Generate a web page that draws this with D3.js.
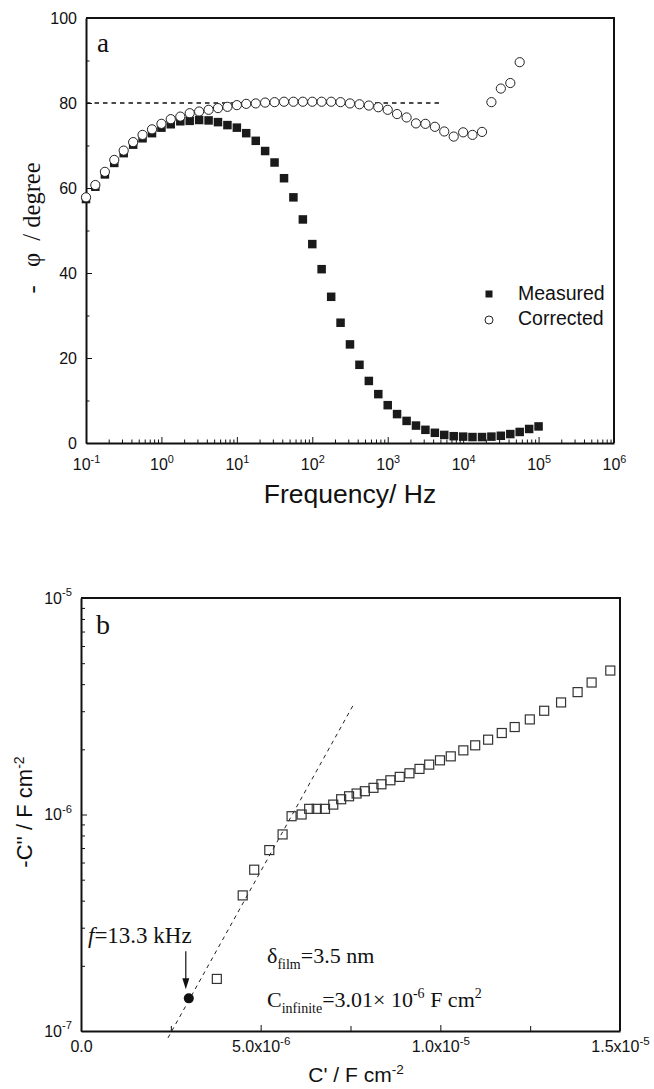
<!DOCTYPE html>
<html>
<head>
<meta charset="utf-8">
<script src="https://cdn.jsdelivr.net/npm/d3@7"></script>
<style>
body { margin: 0; background: #fff; }
svg { display: block; background: #fff; }
.axis text { font-family: 'Liberation Sans', Arial, sans-serif; font-size: 16px; fill: #111; }
.axis path, .axis line { stroke: #111; }
.serif { font-family: 'Liberation Serif', 'Times New Roman', serif; fill: #111; }
.sans { font-family: 'Liberation Sans', Arial, sans-serif; fill: #111; }
</style>
</head>
<body>
<svg id="chart" width="654" height="1089"></svg>
<script>
// panel a: phase angle vs frequency (8 points per decade)
var freq = [0.1, 0.133, 0.178, 0.237, 0.316, 0.422, 0.562, 0.75,
    1, 1.33, 1.78, 2.37, 3.16, 4.22, 5.62, 7.5,
    10, 13.3, 17.8, 23.7, 31.6, 42.2, 56.2, 75,
    100, 133, 178, 237, 316, 422, 562, 750,
    1000, 1330, 1780, 2370, 3160, 4220, 5620, 7500,
    10000, 13300, 17800, 23700, 31600, 42200, 56200, 75000,
    100000];
var measured = [57.4, 60.3, 63.2, 65.9, 68.2, 70.2, 71.7, 72.9,
    74.2, 75.0, 75.7, 75.8, 76.0, 75.9, 75.5, 74.8,
    74.2, 72.9, 71.1, 68.7, 66.0, 62.3, 57.8, 52.6,
    46.8, 40.9, 34.4, 28.3, 23.2, 18.4, 14.6, 11.5,
    8.9, 6.8, 5.2, 4.1, 3.1, 2.4, 1.9, 1.6,
    1.5, 1.4, 1.4, 1.5, 1.7, 2.1, 2.6, 3.3,
    3.9];
var corrected = [57.8, 60.7, 63.8, 66.6, 68.8, 70.8, 72.5, 73.8,
    75.1, 76.2, 76.8, 77.6, 78.0, 78.4, 78.8, 79.1,
    79.5, 79.8, 79.9, 80.1, 80.2, 80.3, 80.3, 80.3,
    80.3, 80.3, 80.3, 80.2, 79.9, 79.7, 79.4, 79.0,
    78.4, 77.4, 76.6, 75.2, 75.1, 74.4, 73.3, 72.1,
    73.1, 72.5, 73.2, 80.2, 83.4, 84.7, 89.6];
var phaseRef = { value: 80, fromFreq: 0.1, toFreq: 5000 };
var freqTicks = [0.1, 1, 10, 100, 1000, 10000, 100000, 1000000];
var freqTickExp = ['-1', '0', '1', '2', '3', '4', '5', '6'];
var phaseTicks = [0, 20, 40, 60, 80, 100];
var legendItems = ['Measured', 'Corrected'];

// panel b: complex capacitance plane (C' in 1e-6 F cm-2, -C'' in 1e-6 F cm-2)
var cReal = [3.78, 4.50, 4.82, 5.24, 5.61, 5.86, 6.14, 6.35, 6.56, 6.79,
    7.02, 7.24, 7.46, 7.67, 7.90, 8.14, 8.36, 8.61, 8.87, 9.14,
    9.42, 9.69, 9.99, 10.29, 10.64, 10.97, 11.33, 11.71, 12.07, 12.49,
    12.89, 13.36, 13.82, 14.21, 14.73];
var cImag = [0.174, 0.423, 0.556, 0.685, 0.809, 0.982, 1.00, 1.062, 1.062, 1.062,
    1.111, 1.176, 1.214, 1.250, 1.281, 1.328, 1.379, 1.439, 1.492, 1.550,
    1.624, 1.700, 1.779, 1.856, 1.978, 2.087, 2.216, 2.379, 2.535, 2.749,
    3.014, 3.293, 3.675, 4.070, 4.623];
var markedPoint = { re: 3.00, im: 0.1415, label: '13.3 kHz' };
var fitLine = [{ re: 2.42, im: 0.0929 }, { re: 7.58, im: 3.21 }];
var reTicks = [0, 5, 10, 15];
var reTickBase = ['0.0', '5.0x10', '1.0x10', '1.5x10'];
var reTickExp = ['', '-6', '-5', '-5'];
var imTicks = [1e-7, 1e-6, 1e-5];
var imTickExp = ['-7', '-6', '-5'];

var svg = d3.select('#chart');

function sup(text, base, exp, baseSize) {
    text.text(null);
    text.append('tspan').text(base);
    if (exp) {
        text.append('tspan')
            .attr('dy', -baseSize * 0.42)
            .attr('font-size', baseSize * 0.66)
            .text(exp);
    }
}

function minorLog(lo, hi) {
    var out = [];
    for (var e = lo; e < hi; e++) {
        for (var m = 2; m <= 9; m++) {
            out.push(m * Math.pow(10, e));
        }
    }
    return out;
}

// ---------- panel a ----------
var a = { left: 86, right: 614, top: 18, bottom: 443 };
var xA = d3.scaleLog().domain([0.1, 1e6]).range([a.left, a.right]);
var yA = d3.scaleLinear().domain([0, 100]).range([a.bottom, a.top]);

var gA = svg.append('g');

gA.append('g')
    .attr('class', 'axis')
    .attr('transform', 'translate(0,' + a.bottom + ')')
    .call(d3.axisBottom(xA).tickValues(minorLog(-1, 6)).tickSizeInner(-3.5).tickSizeOuter(0).tickFormat(''))
    .select('.domain').remove();
var xAxA = gA.append('g')
    .attr('class', 'axis')
    .attr('transform', 'translate(0,' + a.bottom + ')')
    .call(d3.axisBottom(xA).tickValues(freqTicks).tickSizeInner(-6).tickSizeOuter(0).tickPadding(16));
xAxA.selectAll('.tick text').attr('font-size', 16.5).each(function (d, i) {
    sup(d3.select(this), '10', freqTickExp[i], 16.5);
});
xAxA.select('.domain').attr('stroke-width', 2);

gA.append('g')
    .attr('class', 'axis')
    .attr('transform', 'translate(' + a.left + ',0)')
    .call(d3.axisLeft(yA).tickValues([10, 30, 50, 70, 90]).tickSizeInner(-3.5).tickSizeOuter(0).tickFormat(''))
    .select('.domain').remove();
var yAxA = gA.append('g')
    .attr('class', 'axis')
    .attr('transform', 'translate(' + a.left + ',0)')
    .call(d3.axisLeft(yA).tickValues(phaseTicks).tickSizeInner(-6).tickSizeOuter(0).tickPadding(9));
yAxA.selectAll('.tick text').attr('font-size', 16.5);
yAxA.select('.domain').attr('stroke-width', 2);

gA.append('path')
    .attr('d', 'M' + a.left + ',' + a.top + 'H' + a.right + 'V' + a.bottom)
    .attr('fill', 'none').attr('stroke', '#111').attr('stroke-width', 2);

gA.append('line')
    .attr('x1', xA(phaseRef.fromFreq)).attr('x2', xA(phaseRef.toFreq))
    .attr('y1', yA(phaseRef.value)).attr('y2', yA(phaseRef.value))
    .attr('stroke', '#111').attr('stroke-width', 1.6).attr('stroke-dasharray', '4.5,4');

var sq = 8.5;
gA.append('g').selectAll('rect')
    .data(measured)
    .enter()
    .append('rect')
    .attr('x', function (d, i) { return xA(freq[i]) - sq / 2; })
    .attr('y', function (d) { return yA(d) - sq / 2; })
    .attr('width', sq).attr('height', sq)
    .attr('fill', '#1a1a1a');

gA.append('g').selectAll('circle')
    .data(corrected)
    .enter()
    .append('circle')
    .attr('cx', function (d, i) { return xA(freq[i]); })
    .attr('cy', function (d) { return yA(d); })
    .attr('r', 4.6)
    .attr('fill', '#fff')
    .attr('stroke', '#222').attr('stroke-width', 1);

// legend
gA.append('rect').attr('x', 485.5).attr('y', 290.5).attr('width', 7).attr('height', 7).attr('fill', '#1a1a1a');
gA.append('circle').attr('cx', 489).attr('cy', 320).attr('r', 4).attr('fill', '#fff').attr('stroke', '#222');
gA.selectAll('.legend')
    .data(legendItems)
    .enter()
    .append('text')
    .attr('class', 'sans')
    .attr('x', 518)
    .attr('y', function (d, i) { return 300 + i * 25; })
    .attr('font-size', 19.5)
    .text(function (d) { return d; });

gA.append('text').attr('class', 'serif').attr('x', 97).attr('y', 52).attr('font-size', 27).text('a');

gA.append('text').attr('class', 'sans')
    .attr('x', 350).attr('y', 503)
    .attr('text-anchor', 'middle').attr('font-size', 26.5)
    .text('Frequency/ Hz');

gA.append('text').attr('class', 'serif')
    .attr('transform', 'translate(40,228) rotate(-90)')
    .attr('text-anchor', 'middle').attr('font-size', 24.5)
    .text('-\u00A0\u00A0\u00A0\u03C6\u00A0\u00A0/\u00A0degree');

// ---------- panel b ----------
var b = { left: 81, right: 620, top: 598, bottom: 1031 };
var xB = d3.scaleLinear().domain([0, 15]).range([b.left, b.right]);
var yB = d3.scaleLog().domain([1e-7, 1e-5]).range([b.bottom, b.top]);

var gB = svg.append('g');

gB.append('g')
    .attr('class', 'axis')
    .attr('transform', 'translate(0,' + b.bottom + ')')
    .call(d3.axisBottom(xB).tickValues([2.5, 7.5, 12.5]).tickSizeInner(-5).tickSizeOuter(0).tickFormat(''))
    .select('.domain').remove();
var xAxB = gB.append('g')
    .attr('class', 'axis')
    .attr('transform', 'translate(0,' + b.bottom + ')')
    .call(d3.axisBottom(xB).tickValues(reTicks).tickSizeInner(-6).tickSizeOuter(0).tickPadding(10));
xAxB.selectAll('.tick text').attr('font-size', 17.5).each(function (d, i) {
    sup(d3.select(this), reTickBase[i], reTickExp[i], 17.5);
});
xAxB.select('.domain').attr('stroke-width', 2);

gB.append('g')
    .attr('class', 'axis')
    .attr('transform', 'translate(' + b.left + ',0)')
    .call(d3.axisLeft(yB).tickValues(minorLog(-7, -5)).tickSizeInner(-4).tickSizeOuter(0).tickFormat(''))
    .select('.domain').remove();
var yAxB = gB.append('g')
    .attr('class', 'axis')
    .attr('transform', 'translate(' + b.left + ',0)')
    .call(d3.axisLeft(yB).tickValues(imTicks).tickSizeInner(-6).tickSizeOuter(0).tickPadding(9));
yAxB.selectAll('.tick text').attr('font-size', 17).each(function (d, i) {
    sup(d3.select(this), '10', imTickExp[i], 17);
});
yAxB.select('.domain').attr('stroke-width', 2);

gB.append('path')
    .attr('d', 'M' + b.left + ',' + b.top + 'H' + b.right + 'V' + b.bottom)
    .attr('fill', 'none').attr('stroke', '#111').attr('stroke-width', 2);

gB.append('line')
    .attr('x1', xB(fitLine[0].re)).attr('y1', yB(fitLine[0].im * 1e-6))
    .attr('x2', xB(fitLine[1].re)).attr('y2', yB(fitLine[1].im * 1e-6))
    .attr('stroke', '#222').attr('stroke-width', 1).attr('stroke-dasharray', '4,4');

var bs = 9;
gB.append('g').selectAll('rect')
    .data(cImag)
    .enter()
    .append('rect')
    .attr('x', function (d, i) { return xB(cReal[i]) - bs / 2; })
    .attr('y', function (d) { return yB(d * 1e-6) - bs / 2; })
    .attr('width', bs).attr('height', bs)
    .attr('fill', 'none')
    .attr('stroke', '#333').attr('stroke-width', 1.2);

var mx = xB(markedPoint.re), my = yB(markedPoint.im * 1e-6);
gB.append('circle').attr('cx', mx).attr('cy', my).attr('r', 5).attr('fill', '#111');
gB.append('line')
    .attr('x1', mx - 3).attr('x2', mx - 3)
    .attr('y1', my - 47).attr('y2', my - 14)
    .attr('stroke', '#111').attr('stroke-width', 1.2);
gB.append('path')
    .attr('d', 'M' + (mx - 6.5) + ',' + (my - 20) + 'L' + (mx - 3) + ',' + (my - 9) + 'L' + (mx + 0.5) + ',' + (my - 20) + 'Z')
    .attr('fill', '#111');

var fLabel = gB.append('text').attr('class', 'serif').attr('x', 88).attr('y', 943).attr('font-size', 23);
fLabel.append('tspan').attr('font-style', 'italic').text('f');
fLabel.append('tspan').text('=' + markedPoint.label);

var dLabel = gB.append('text').attr('class', 'serif').attr('x', 267).attr('y', 963).attr('font-size', 22);
dLabel.append('tspan').text('\u03B4');
dLabel.append('tspan').attr('dy', 6).attr('font-size', 14).text('film');
dLabel.append('tspan').attr('dy', -6).text('=3.5 nm');

var cLabel = gB.append('text').attr('class', 'serif').attr('x', 267).attr('y', 1007).attr('font-size', 22);
cLabel.append('tspan').text('C');
cLabel.append('tspan').attr('dy', 6).attr('font-size', 14).text('infinite');
cLabel.append('tspan').attr('dy', -6).text('=3.01\u00D7 10');
cLabel.append('tspan').attr('dy', -9).attr('font-size', 14).text('-6');
cLabel.append('tspan').attr('dy', 9).text(' F cm');
cLabel.append('tspan').attr('dy', -9).attr('font-size', 14).text('2');

gB.append('text').attr('class', 'serif').attr('x', 96).attr('y', 634).attr('font-size', 28).text('b');

var xt = gB.append('text').attr('class', 'sans')
    .attr('x', 356).attr('y', 1082)
    .attr('text-anchor', 'middle').attr('font-size', 21);
xt.append('tspan').text("C' / F cm");
xt.append('tspan').attr('dy', -8).attr('font-size', 13.5).text('-2');

var yt = gB.append('text').attr('class', 'sans')
    .attr('transform', 'translate(32,812) rotate(-90)')
    .attr('text-anchor', 'middle').attr('font-size', 22);
yt.append('tspan').text("-C'' / F cm");
yt.append('tspan').attr('dy', -8.5).attr('font-size', 14).text('-2');
</script>
</body>
</html>
